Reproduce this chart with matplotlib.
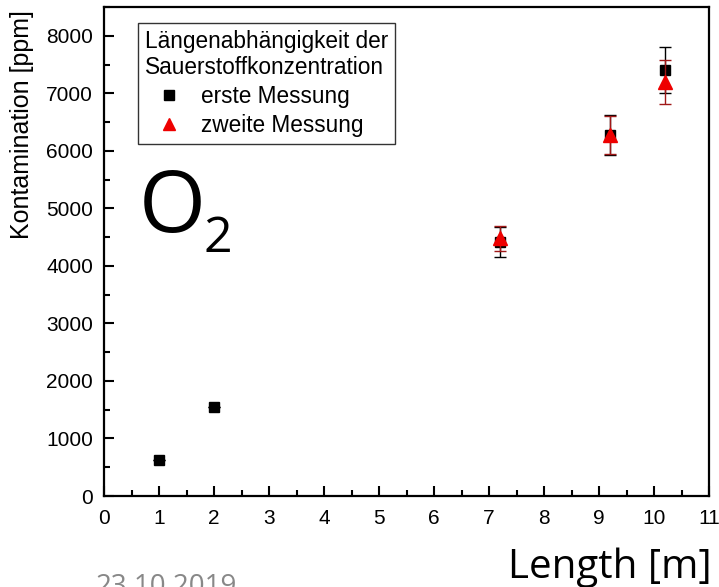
import matplotlib
matplotlib.use("Agg")
import matplotlib.pyplot as plt
from matplotlib.ticker import MultipleLocator
from matplotlib.lines import Line2D

# data
x1 = [1, 2, 7.2, 9.2, 10.2]
y1 = [620, 1540, 4420, 6280, 7400]
e1 = [0, 0, 260, 350, 400]
x2 = [7.2, 9.2, 10.2]
y2 = [4480, 6270, 7200]
e2 = [220, 330, 380]
label1 = "erste Messung"
label2 = "zweite Messung"
legend_title = "Längenabhängigkeit der\nSauerstoffkonzentration"

plt.rcParams['font.family'] = ['Liberation Sans', 'DejaVu Sans']
fig = plt.figure(figsize=(7.19, 5.87), dpi=100)
W, H = 719, 587
ax = fig.add_axes([104 / W, 1 - 496 / H, (709 - 104) / W, (496 - 7) / H])

ax.errorbar(x1, y1, yerr=e1, fmt='s', color='black', ms=7.5, ecolor='black',
            elinewidth=1, capsize=4, capthick=1, zorder=3)
ax.errorbar(x2, y2, yerr=e2, fmt='^', color='#ee0000', ms=10, ecolor='#a01818',
            elinewidth=1, capsize=4, capthick=1, zorder=4)

ax.set_xlim(0, 11)
ax.set_ylim(0, 8500)
ax.xaxis.set_major_locator(MultipleLocator(1))
ax.xaxis.set_minor_locator(MultipleLocator(0.5))
ax.yaxis.set_major_locator(MultipleLocator(1000))
ax.yaxis.set_minor_locator(MultipleLocator(500))
ax.tick_params(which='both', direction='in', top=False, right=False, labelsize=15, width=1.5)
ax.tick_params(which='major', length=7)
ax.tick_params(which='minor', length=4)
ax.tick_params(axis='x', pad=9)
ax.tick_params(axis='y', pad=8)
for s in ax.spines.values():
    s.set_linewidth(1.6)

handles = [Line2D([], [], ls='none', marker='s', color='black', ms=7),
           Line2D([], [], ls='none', marker='^', color='#ee0000', ms=9)]
leg = ax.legend(handles, [label1, label2], title=legend_title, loc='upper left',
                bbox_to_anchor=((138 - 104) / 605, (496 - 23) / 489), borderaxespad=0,
                fontsize=16.3, title_fontsize=16.3, frameon=True, fancybox=False,
                edgecolor='#333333', framealpha=1, borderpad=0.3, handletextpad=0.4,
                labelspacing=0.25, handlelength=2.1)
leg._legend_box.align = "left"
leg.get_frame().set_linewidth(1)

fig.text(22 / W, 1 - 125 / H, "Kontamination [ppm]", rotation=90, fontsize=18,
         ha='center', va='center')
fig.text(139 / W, 1 - 232 / H, "O", fontsize=62, family='Open Sans', ha='left', va='baseline')
fig.text(203 / W, 1 - 252 / H, "2", fontsize=36, family='Open Sans', ha='left', va='baseline')
fig.text(712 / W, 1 - 578 / H, "Length [m]", fontsize=29, family='Open Sans', ha='right', va='baseline')
fig.text(96 / W, 1 - 594 / H, "23.10.2019", fontsize=20, family='Open Sans', color='#888888',
         ha='left', va='baseline')

fig.savefig("out.png", dpi=100)
